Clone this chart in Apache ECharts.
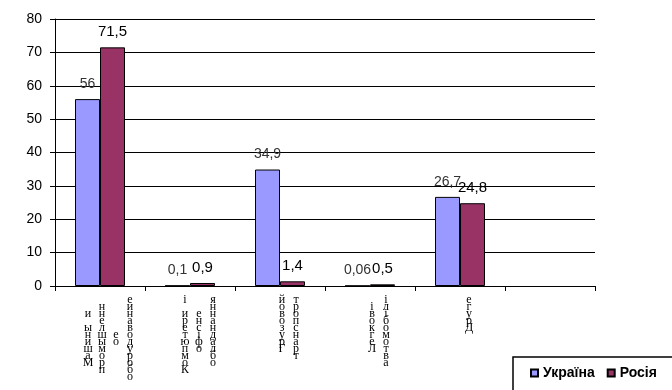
<!DOCTYPE html>
<html>
<head>
<meta charset="utf-8">
<script src="https://cdn.jsdelivr.net/npm/echarts@6/dist/echarts.min.js"></script>
<style>
html,body{margin:0;padding:0;background:#fff;}
#chart{width:672px;height:390px;}
</style>
</head>
<body>
<div id="chart"></div>
<script>
// Category names: columns of the stacked vertical label separated by '|'
const categories = [
  'Машины и|промышленн|ое|оборудование',
  'Компютери і|офісне|обладнання',
  'Грузовой|транспорт',
  'Легкові|автомобілі',
  'Друге',
  ''
];
const seriesNames = ['Україна', 'Росія'];
const ukraine = [56, 0.1, 34.9, 0.06, 26.7, null];
const russia = [71.5, 0.9, 1.4, 0.5, 24.8, null];
const yMin = 0, yMax = 80, yStep = 10;

function verticalLabel(name) {
  if (!name) return '';
  const cols = name.split('|').map(w => Array.from(w).reverse());
  const N = Math.max.apply(null, cols.map(c => c.length));
  const offs = cols.map(c => Math.floor((N - c.length) / 2));
  const lines = [];
  for (let i = 0; i < N; i++) {
    lines.push(cols.map((c, k) => {
      const j = i - offs[k];
      const ch = (j >= 0 && j < c.length) ? c[j] : ' ';
      return '{c|' + ch + '}';
    }).join(''));
  }
  return lines.join('\n');
}
function comma(p) { return p.value == null ? '' : String(p.value).replace('.', ','); }

const chart = echarts.init(document.getElementById('chart'), null, {renderer: 'canvas'});
chart.setOption({
  animation: false,
  backgroundColor: '#fff',
  grid: {left: 55, right: 77, top: 19, bottom: 104, containLabel: false},
  legend: {
    data: seriesNames,
    left: 513, top: 357,
    width: 220,
    orient: 'horizontal',
    padding: [9, 40, 12, 17],
    itemWidth: 7, itemHeight: 7, itemGap: 12,
    icon: 'rect',
    borderColor: '#000', borderWidth: 1.5,
    backgroundColor: '#fff',
    textStyle: {fontFamily: 'Liberation Sans', fontSize: 14, fontWeight: 'bold', color: '#000'}
  },
  xAxis: {
    type: 'category',
    data: categories,
    axisLine: {show: true, lineStyle: {color: '#000', width: 1}},
    axisTick: {show: true, length: 5, lineStyle: {color: '#000'}},
    splitLine: {show: false},
    axisLabel: {
      interval: 0,
      margin: 10,
      padding: [0, 0, 0, 18],
      lineHeight: 7,
      formatter: verticalLabel,
      rich: {
        c: {width: 14, align: 'center', fontSize: 12, lineHeight: 7, fontFamily: 'Liberation Serif', color: '#000'}
      }
    }
  },
  yAxis: {
    type: 'value',
    min: yMin, max: yMax, interval: yStep,
    axisLine: {show: true, lineStyle: {color: '#000', width: 1}},
    axisTick: {show: true, length: 5, lineStyle: {color: '#000'}},
    splitLine: {show: true, lineStyle: {color: '#000', width: 1}},
    axisLabel: {margin: 13, fontFamily: 'Liberation Sans', fontSize: 14, color: '#000'}
  },
  series: [
    {
      name: seriesNames[0], type: 'bar', data: ukraine,
      barWidth: 25, barGap: '0%',
      itemStyle: {color: '#9999FF', borderColor: '#000', borderWidth: 1},
      label: {show: true, position: 'top', distance: 8, formatter: comma,
        fontFamily: 'Liberation Sans', fontSize: 14, color: '#333'}
    },
    {
      name: seriesNames[1], type: 'bar', data: russia,
      barWidth: 25, barGap: '0%',
      itemStyle: {color: '#993366', borderColor: '#000', borderWidth: 1},
      label: {show: true, position: 'top', distance: 8, formatter: comma,
        fontFamily: 'Liberation Sans', fontSize: 15, color: '#000'}
    }
  ]
});
</script>
</body>
</html>
